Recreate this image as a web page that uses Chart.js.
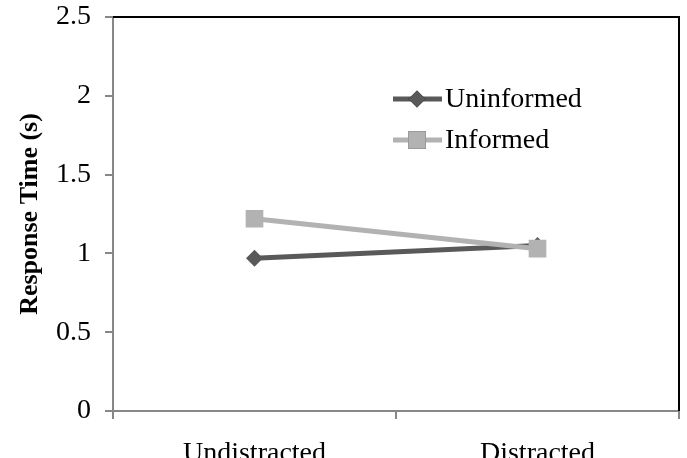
<!DOCTYPE html>
<html>
<head>
<meta charset="utf-8">
<script src="https://cdn.jsdelivr.net/npm/chart.js@4.4.1/dist/chart.umd.min.js"></script>
<style>
  html, body { margin: 0; padding: 0; background: #fff; overflow: hidden; }
  #wrap { width: 687px; height: 458px; overflow: hidden; }
  #chart { display: block; }
</style>
</head>
<body>
<div id="wrap"><canvas id="chart" width="687" height="480"></canvas></div>
<script>
// ===== DATA =====
const CONDITIONS  = ['Undistracted', 'Distracted'];
const UNINFORMED  = [0.97, 1.05];
const INFORMED    = [1.22, 1.03];
const SERIES_NAMES = ['Uninformed', 'Informed'];

const FONT  = '"Liberation Serif", "Times New Roman", serif';
const AXIS  = '#878787';
const DARK  = '#595959';
const LIGHT = '#b2b2b2';

// top + right frame lines of the plot box
const framePlugin = {
  id: 'frame',
  afterDraw(chart) {
    const { ctx, chartArea: a } = chart;
    ctx.save();
    ctx.strokeStyle = '#000';
    ctx.lineWidth = 2;
    ctx.beginPath();
    ctx.moveTo(a.left, a.top);
    ctx.lineTo(a.right, a.top);
    ctx.lineTo(a.right, a.bottom);
    ctx.stroke();
    ctx.restore();
  },
};

// legend sits inside the plot, drawn by hand
const innerLegend = {
  id: 'innerLegend',
  afterDraw(chart) {
    const ctx = chart.ctx;
    const rows = [
      { ds: chart.data.datasets[1], y: 99 },
      { ds: chart.data.datasets[0], y: 140 },
    ];
    ctx.save();
    rows.forEach(r => {
      const ds = r.ds;
      ctx.strokeStyle = ds.borderColor;
      ctx.lineWidth = ds.borderWidth;
      ctx.beginPath();
      ctx.moveTo(393, r.y);
      ctx.lineTo(442, r.y);
      ctx.stroke();
      Chart.helpers.drawPoint(ctx, {
        pointStyle: ds.pointStyle,
        radius: ds.pointRadius,
        borderWidth: 0,
      }, 417, r.y);
      ctx.fillStyle = ds.pointBackgroundColor;
      ctx.fill();
      ctx.fillStyle = '#000';
      ctx.font = '28px ' + FONT;
      ctx.textBaseline = 'middle';
      ctx.textAlign = 'left';
      ctx.fillText(ds.label, 445, r.y + 1);
    });
    ctx.restore();
  },
};

new Chart(document.getElementById('chart'), {
  type: 'line',
  data: {
    labels: CONDITIONS,
    datasets: [
      {
        label: SERIES_NAMES[1],
        data: INFORMED,
        borderColor: LIGHT,
        backgroundColor: LIGHT,
        pointBackgroundColor: LIGHT,
        pointBorderColor: LIGHT,
        borderWidth: 5,
        pointStyle: 'rect',
        pointRadius: 12.5,
        pointBorderWidth: 0,
        tension: 0,
        order: 1,
      },
      {
        label: SERIES_NAMES[0],
        data: UNINFORMED,
        borderColor: DARK,
        backgroundColor: DARK,
        pointBackgroundColor: DARK,
        pointBorderColor: DARK,
        borderWidth: 5,
        pointStyle: 'rectRot',
        pointRadius: 8.5,
        pointBorderWidth: 0,
        tension: 0,
        order: 2,
      },
    ],
  },
  options: {
    responsive: false,
    animation: false,
    layout: { autoPadding: false, padding: { top: 17, right: 8, left: 0, bottom: 0 } },
    plugins: { legend: { display: false }, tooltip: { enabled: false } },
    scales: {
      x: {
        offset: true,
        grid: { offset: true, drawOnChartArea: false, drawTicks: true, tickLength: 8, color: AXIS, lineWidth: 2 },
        border: { display: true, color: AXIS, width: 2 },
        ticks: { color: '#000', font: { family: FONT, size: 28 }, padding: 18 },
        afterFit: s => {
          s.height = 480 - 411;
          s.paddingLeft = 0;
          s.paddingRight = 0;
        },
      },
      y: {
        min: 0, max: 2.5,
        grid: { drawOnChartArea: false, drawTicks: true, tickLength: 8, color: AXIS, lineWidth: 2 },
        border: { display: true, color: AXIS, width: 2 },
        ticks: {
          stepSize: 0.5, color: '#000', font: { family: FONT, size: 28 }, padding: 14,
          callback: v => String(v),
        },
        title: {
          display: true,
          text: 'Response Time (s)',
          color: '#000',
          font: { family: FONT, size: 26, weight: 'bold' },
          padding: { top: 15, bottom: 0 },
        },
        afterFit: s => {
          s.width = 113;
          s.paddingTop = 0;
          s.paddingBottom = 0;
        },
      },
    },
  },
  plugins: [framePlugin, innerLegend],
});
</script>
</body>
</html>
